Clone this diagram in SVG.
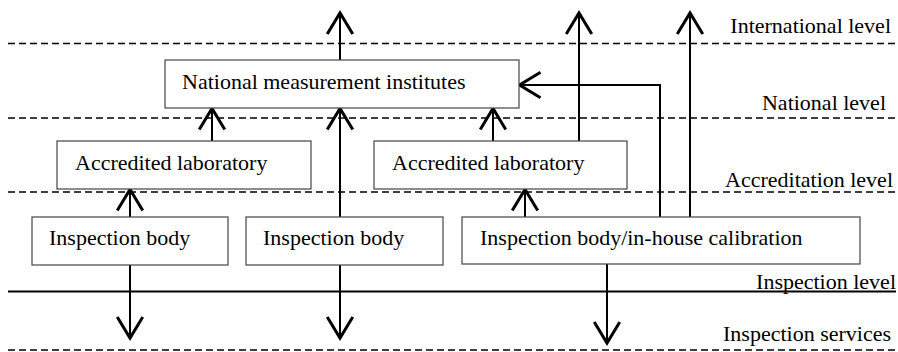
<svg xmlns="http://www.w3.org/2000/svg" width="898" height="352" viewBox="0 0 898 352">
<style>
.box{fill:#fff;stroke:#444;stroke-width:1.2}
.t{font-family:"Liberation Serif","Times New Roman",serif;font-size:22px;fill:#000}
.lv{font-family:"Liberation Serif","Times New Roman",serif;font-size:22px;fill:#000;text-anchor:end}
.dash{stroke:#000;stroke-width:1.4;stroke-dasharray:7,4;fill:none}
.solid{stroke:#000;stroke-width:2;fill:none}
.c{stroke:#000;stroke-width:2;fill:none;marker-end:url(#ah)}
</style>
<defs>
<marker id="ah" markerUnits="userSpaceOnUse" markerWidth="30" markerHeight="30" refX="0" refY="0" viewBox="-16 -10 18 20" orient="auto" overflow="visible">
<path d="M-14,-8.5 L0,0 L-14,8.5" fill="none" stroke="#000" stroke-width="2"/>
</marker>
</defs>
<g id="levels">
<line class="dash" x1="8" y1="43.5" x2="898" y2="43.5"/>
<line class="dash" x1="8" y1="118" x2="898" y2="118"/>
<line class="dash" x1="8" y1="192" x2="898" y2="192"/>
<line class="solid" x1="8" y1="291.5" x2="896" y2="291.5"/>
<line class="dash" x1="8" y1="350" x2="898" y2="350"/>
<text class="lv" x="891" y="33">International level</text>
<text class="lv" x="886" y="110">National level</text>
<text class="lv" x="893" y="187">Accreditation level</text>
<text class="lv" x="896" y="289">Inspection level</text>
<text class="lv" x="891" y="341">Inspection services</text>
</g>
<g id="connectors">
<path class="c" d="M340,60 V13"/>
<path class="c" d="M212,141 V108.5"/>
<path class="c" d="M340,217 V108.5"/>
<path class="c" d="M493,141 V108.5"/>
<path class="c" d="M579,141 V13"/>
<path class="c" d="M660,217 V85 H519.5"/>
<path class="c" d="M690,217 V13"/>
<path class="c" d="M130,217 V189.5"/>
<path class="c" d="M525,217 V189.5"/>
<path class="c" d="M130,265 V338"/>
<path class="c" d="M340,265 V338"/>
<path class="c" d="M607,264 V343"/>
</g>
<g id="nmi">
<rect class="box" x="165" y="60" width="354" height="48"/>
<text class="t" x="182" y="89">National measurement institutes</text>
</g>
<g id="lab1">
<rect class="box" x="57" y="141" width="254" height="48"/>
<text class="t" x="75" y="170">Accredited laboratory</text>
</g>
<g id="lab2">
<rect class="box" x="374" y="141" width="253" height="48"/>
<text class="t" x="392" y="170">Accredited laboratory</text>
</g>
<g id="ib1">
<rect class="box" x="32" y="217" width="196" height="48"/>
<text class="t" x="49" y="245">Inspection body</text>
</g>
<g id="ib2">
<rect class="box" x="246" y="217" width="197" height="48"/>
<text class="t" x="263" y="245">Inspection body</text>
</g>
<g id="ib3">
<rect class="box" x="462" y="217" width="398" height="47"/>
<text class="t" x="480" y="245">Inspection body/in-house calibration</text>
</g>
</svg>
